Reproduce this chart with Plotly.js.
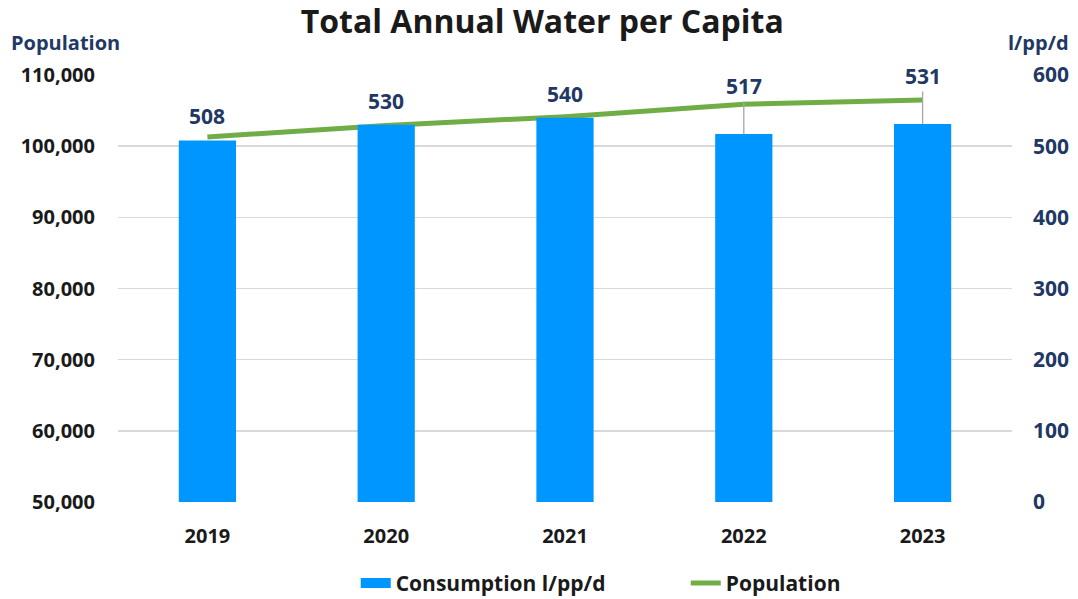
<!DOCTYPE html>
<html><head><meta charset="utf-8">
<script src="https://cdn.plot.ly/plotly-3.0.1.min.js"></script>
<style>html,body{margin:0;padding:0;background:#fff}#c{width:1078px;height:599px}</style>
</head><body><div id="c"></div>
<script>
const years = ['2019','2020','2021','2022','2023'];
const consumption = [508, 530, 540, 517, 531];
const population = [101300, 102900, 104150, 105900, 106500];
const leftTicks = [50000, 60000, 70000, 80000, 90000, 100000, 110000];
const rightTicks = [0, 100, 200, 300, 400, 500, 600];

const navy = '#1f3864';
const blue = '#0096ff';
const fontFam = '"Open Sans", "DejaVu Sans", sans-serif';
const leaderIdx = [3, 4]; // labels lifted with a leader line

const bars = {
  type: 'bar', x: years, y: consumption, yaxis: 'y2', name: 'Consumption l/pp/d',
  marker: {color: blue}, width: 0.32, showlegend: false
};
const barLegend = {
  type: 'scatter', mode: 'lines', x: [null], y: [null], yaxis: 'y2', name: 'Consumption l/pp/d',
  line: {color: blue, width: 12}, showlegend: true
};
const line = {
  type: 'scatter', mode: 'lines', x: years, y: population, yaxis: 'y', name: 'Population',
  line: {color: '#70ad47', width: 5}
};

const annotations = years.map((yr, i) => {
  const lifted = leaderIdx.includes(i);
  const a = {
    x: i, y: consumption[i], xref: 'x', yref: 'y2', text: String(consumption[i]),
    font: {family: fontFam, size: 21, color: navy, weight: 'bold'}
  };
  if (lifted) {
    Object.assign(a, {showarrow: true, arrowhead: 0, arrowwidth: 1.3, arrowcolor: '#a6a6a6', ax: 0, ay: -48, standoff: 0});
  } else {
    Object.assign(a, {showarrow: false, yanchor: 'bottom', yshift: 8});
  }
  return a;
});
annotations.push(
  {text: '<b>Population</b>', xref: 'paper', yref: 'paper', x: -0.122, y: 1.077, xanchor: 'left', yanchor: 'middle', showarrow: false,
   font: {family: fontFam, size: 20, color: navy}},
  {text: '<b>l/pp/d</b>', xref: 'paper', yref: 'paper', x: 1.066, y: 1.077, xanchor: 'right', yanchor: 'middle', showarrow: false,
   font: {family: fontFam, size: 20, color: navy}}
);

const layout = {
  width: 1078, height: 599,
  margin: {l: 118, r: 66, t: 75, b: 97},
  paper_bgcolor: '#fff', plot_bgcolor: '#fff',
  title: {text: '<b>Total Annual Water per Capita</b>', x: 0.503, xanchor: 'center', y: 0.963, yanchor: 'middle',
          font: {family: fontFam, size: 32, color: '#1a1a1a'}},
  xaxis: {type: 'category', range: [-0.5, years.length - 0.5], autorange: false,
          tickfont: {family: fontFam, size: 20, color: '#1a1a1a', weight: 'bold'},
          showgrid: false, zeroline: false, showline: false, ticks: '', ticklabelstandoff: 20},
  yaxis: {range: [50000, 110000], tickvals: leftTicks, ticktext: leftTicks.map(v => v.toLocaleString('en-US')),
          tickfont: {family: fontFam, size: 20, color: '#1a1a1a', weight: 'bold'},
          showgrid: true, gridcolor: '#d9d9d9', gridwidth: 1.5, zeroline: false, showline: false, ticks: '', ticklabelstandoff: 22},
  yaxis2: {range: [0, 600], tickvals: rightTicks, overlaying: 'y', side: 'right',
          tickfont: {family: fontFam, size: 21, color: navy, weight: 'bold'},
          showgrid: false, zeroline: false, showline: false, ticks: '', ticklabelstandoff: 20},
  showlegend: true,
  legend: {orientation: 'h', xref: 'container', yref: 'container', x: 0.33, xanchor: 'left', y: 0.026, yanchor: 'middle',
           font: {family: fontFam, size: 21, color: '#1a1a1a', weight: 'bold'}, entrywidth: 285, traceorder: 'normal'},
  annotations: annotations
};

Plotly.newPlot('c', [bars, barLegend, line], layout, {displayModeBar: false, staticPlot: true});
</script></body></html>
